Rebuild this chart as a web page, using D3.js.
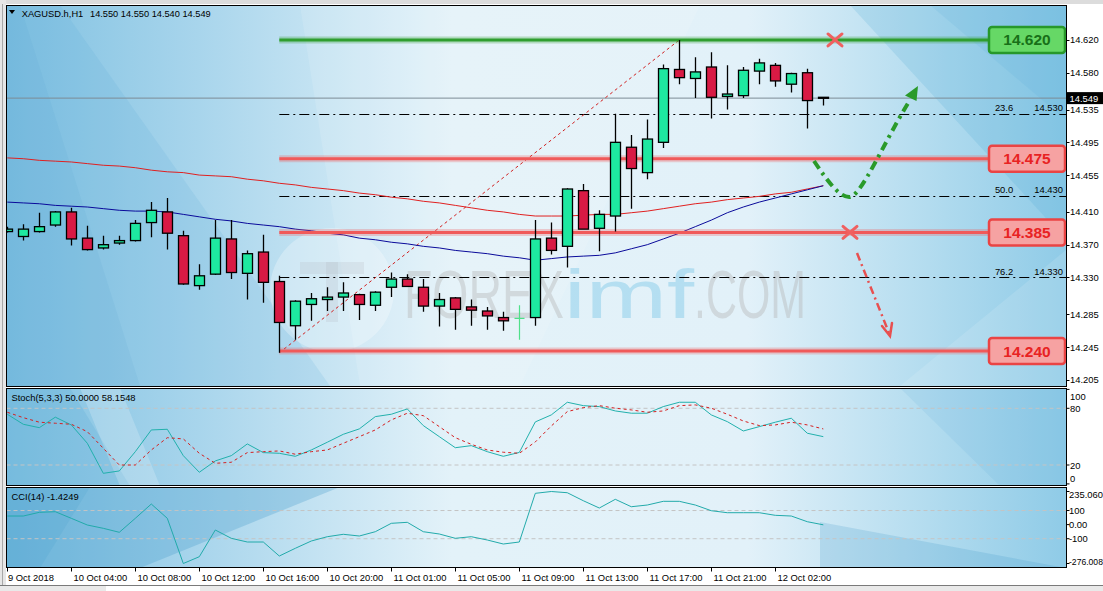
<!DOCTYPE html>
<html><head><meta charset="utf-8">
<script src="https://cdn.jsdelivr.net/npm/d3@7"></script>
<style>html,body{margin:0;padding:0;background:#fff;overflow:hidden}</style>
</head><body>
<svg id="c" width="1103" height="591" xmlns="http://www.w3.org/2000/svg"></svg>
<script>
// ---------------- DATA ----------------
const symbolName = "XAGUSD.h,H1";
const symbolQuote = "14.550 14.550 14.540 14.549";
const opens  = [14.386,14.380,14.386,14.394,14.410,14.378,14.366,14.372,14.375,14.397,14.410,14.381,14.320,14.334,14.377,14.335,14.361,14.325,14.271,14.297,14.303,14.306,14.309,14.296,14.318,14.328,14.318,14.295,14.305,14.294,14.289,14.281,14.280,14.281,14.378,14.368,14.436,14.390,14.405,14.489,14.458,14.495,14.584,14.573,14.587,14.551,14.552,14.582,14.589,14.566,14.580,14.550];
const highs  = [14.392,14.395,14.409,14.411,14.415,14.393,14.381,14.381,14.400,14.422,14.427,14.387,14.346,14.400,14.400,14.363,14.382,14.332,14.302,14.311,14.318,14.324,14.310,14.313,14.336,14.334,14.328,14.311,14.306,14.303,14.294,14.288,14.296,14.400,14.397,14.439,14.444,14.412,14.530,14.504,14.523,14.590,14.620,14.599,14.605,14.589,14.587,14.597,14.592,14.580,14.585,14.550];
const lows   = [14.385,14.375,14.385,14.392,14.369,14.363,14.364,14.370,14.374,14.379,14.364,14.321,14.315,14.333,14.328,14.303,14.299,14.238,14.254,14.277,14.289,14.289,14.278,14.289,14.306,14.319,14.288,14.270,14.266,14.271,14.266,14.265,14.254,14.271,14.358,14.342,14.389,14.362,14.386,14.414,14.450,14.488,14.566,14.549,14.524,14.535,14.549,14.566,14.563,14.556,14.512,14.540];
const closes = [14.389,14.389,14.392,14.410,14.377,14.364,14.370,14.375,14.396,14.412,14.384,14.322,14.332,14.378,14.336,14.359,14.324,14.275,14.301,14.304,14.306,14.311,14.297,14.312,14.328,14.319,14.295,14.303,14.291,14.290,14.283,14.277,14.280,14.377,14.363,14.438,14.389,14.407,14.495,14.463,14.499,14.585,14.574,14.581,14.550,14.554,14.583,14.592,14.570,14.579,14.546,14.549];
const maRed  = [14.476,14.475,14.473,14.472,14.471,14.469,14.467,14.466,14.464,14.461,14.459,14.458,14.455,14.454,14.453,14.450,14.448,14.445,14.443,14.440,14.438,14.436,14.433,14.431,14.428,14.426,14.423,14.421,14.418,14.415,14.412,14.410,14.407,14.405,14.405,14.405,14.406,14.407,14.407,14.409,14.411,14.414,14.417,14.420,14.422,14.425,14.427,14.429,14.432,14.434,14.438,14.442];
const maBlue = [14.422,14.421,14.420,14.418,14.417,14.416,14.414,14.412,14.411,14.411,14.410,14.407,14.404,14.401,14.399,14.396,14.394,14.392,14.389,14.387,14.384,14.382,14.378,14.376,14.373,14.371,14.368,14.366,14.363,14.361,14.359,14.356,14.354,14.351,14.353,14.355,14.356,14.357,14.360,14.365,14.370,14.377,14.384,14.392,14.400,14.409,14.416,14.422,14.427,14.432,14.437,14.442];
const stochK = [73.7,63.1,59.5,70.6,62.4,43.0,11.2,13.7,34.1,57.1,57.8,29.9,12.3,24.3,29.9,42.3,33.1,32.4,29.2,35.9,44.1,52.5,58.2,71.2,73.7,79.3,61.7,50.0,38.3,40.5,34.1,29.2,33.3,65.6,73.0,86.4,82.8,81.8,77.2,74.8,74.8,81.8,86.4,86.4,73.0,65.9,56.0,60.6,65.3,69.5,53.6,50.0];
const stochD = [75.8,70.1,65.3,64.2,63.1,55.3,37.7,20.0,20.0,35.9,48.9,47.6,32.4,21.8,22.9,33.1,34.1,34.9,31.4,34.1,35.9,43.0,50.0,57.1,67.7,74.8,72.2,60.6,48.9,41.9,35.9,33.5,32.4,44.4,61.3,76.5,80.7,82.8,80.1,78.3,75.8,77.2,82.8,83.6,80.1,73.7,66.6,61.7,62.4,65.3,62.4,58.1548];
const cci    = [61.0,61.0,87.3,91.6,44.7,-2.8,-26.3,-54.6,44.7,146.2,44.7,-276.008,-227.8,-38.3,-97.2,-123.5,-123.5,-222.9,-168.2,-116.4,-85.9,-68.8,-80.9,-50.4,9.2,16.3,-50.4,-66.7,-97.2,-85.9,-109.3,-137.7,-123.5,222.1,235.06,226.4,169.6,117.8,179.6,127.0,139.1,165.4,165.4,139.1,98.7,84.5,84.5,84.5,66.0,61.0,20.6,-1.4249];
const priceTicks = [14.620,14.580,14.535,14.495,14.455,14.410,14.370,14.330,14.285,14.245,14.205];
const stochTicks = [100,80,20,0];
const stochLevels = [80,20];
const cciTicks = [235.060,100,0,-100,-276.008];
const cciTickLabels = ["235.060","100","0.00","-100","-276.008"];
const cciLevels = [100,-100];
const timeLabels = ["9 Oct 2018","10 Oct 04:00","10 Oct 08:00","10 Oct 12:00","10 Oct 16:00","10 Oct 20:00","11 Oct 01:00","11 Oct 05:00","11 Oct 09:00","11 Oct 13:00","11 Oct 17:00","11 Oct 21:00","12 Oct 02:00"];
const timeLabelBar = [0,4,8,12,16,20,24,28,32,36,40,44,48];
const resistanceLevels = [14.620];
const supportLevels = [14.475,14.385,14.240];
const fibValues = [14.530,14.430,14.330];
const fibNames = ["23.6","50.0","76.2"];
const fibStartBar = 17, fibEndBar = 42;       // swing low bar -> swing high bar
const lastPrice = 14.549;
const stochTitle = "Stoch(5,3,3) 50.0000 58.1548";
const cciTitle = "CCI(14) -1.4249";

// ---------------- LAYOUT ----------------
const L = 6.5, R = 1066.5;
const main = {t:5.5, b:386.5}, stP = {t:388.5, b:485.5}, ccP = {t:487.5, b:567.5};
const FONT = "'Liberation Sans', Arial, sans-serif";

const svg = d3.select("#c");
const defs = svg.append("defs");
const idx = opens.map((_, i) => i);
const x = d3.scaleLinear().domain([0, 51]).range([7.3, 823.3]);
const y = d3.scaleLinear().domain([14.1974, 14.6615]).range([386, 6]);
const yS = d3.scaleLinear().domain([0, 100]).range([483.9, 389.4]);
const yC = d3.scaleLinear().domain([-276.008, 235.06]).range([563.5, 491.5]);

// frame
svg.append("rect").attr("x",0).attr("y",0).attr("width",1103).attr("height",591).attr("fill","#ffffff");
svg.append("rect").attr("x",0).attr("y",0).attr("width",1103).attr("height",4).attr("fill","#dcdcdc");
svg.append("rect").attr("x",0).attr("y",0).attr("width",6).attr("height",585).attr("fill","#e6e6e6");
svg.append("line").attr("x1",2.5).attr("x2",2.5).attr("y1",4).attr("y2",585).attr("stroke","#a8a8a8");
svg.append("rect").attr("x",0).attr("y",585).attr("width",1103).attr("height",6).attr("fill","#e9e9e9");
svg.append("line").attr("x1",0).attr("x2",1103).attr("y1",585.5).attr("y2",585.5).attr("stroke","#7a7a7a");
svg.append("rect").attr("x",106).attr("y",586).attr("width",94).attr("height",5).attr("fill","#ffffff");

// background gradient
const g1 = defs.append("linearGradient").attr("id","bg").attr("gradientUnits","userSpaceOnUse")
  .attr("x1",7).attr("y1",0).attr("x2",1066).attr("y2",0);
[[0,"#80c1e1"],[0.18,"#a8d5ec"],[0.42,"#e3f2f9"],[0.7,"#e2f1f9"],[0.87,"#b3dcef"],[1,"#8fcbe7"]]
  .forEach(s => g1.append("stop").attr("offset",s[0]).attr("stop-color",s[1]));

function panelBg(p, id){
  const cp = defs.append("clipPath").attr("id", id);
  cp.append("rect").attr("x",L).attr("y",p.t).attr("width",R-L).attr("height",p.b-p.t);
  const g = svg.append("g").attr("clip-path",`url(#${id})`);
  g.append("rect").attr("x",L).attr("y",p.t).attr("width",R-L).attr("height",p.b-p.t).attr("fill","url(#bg)");
  return g;
}
const gm = panelBg(main, "cm");
const gs = panelBg(stP, "cs");
const gc = panelBg(ccP, "cc");

// decorative streaks
function poly(g, pts, fill, op){ g.append("polygon").attr("points", pts.map(p=>p.join(",")).join(" ")).attr("fill",fill).attr("opacity",op); }
poly(gm, [[7,5],[60,5],[330,386],[7,386]], "#5aaad6", 0.15);
poly(gm, [[7,5],[20,5],[140,386],[7,386]], "#4aa0d0", 0.1);
poly(gm, [[850,5],[1066,5],[1066,240]], "#4aa4d4", 0.18);
poly(gm, [[930,5],[1066,5],[1066,120]], "#4aa4d4", 0.12);
poly(gm, [[300,5],[700,5],[520,386],[360,386]], "#ffffff", 0.12);
poly(gm, [[1066,250],[900,386],[1066,386]], "#ffffff", 0.12);
poly(gs, [[7,388],[70,388],[130,486],[7,486]], "#4fa3d2", 0.2);
poly(gs, [[80,388],[120,388],[160,486],[120,486]], "#ffffff", 0.2);
poly(gs, [[900,388],[1066,388],[1066,486],[1000,486]], "#4fa3d2", 0.12);
poly(gc, [[7,487],[340,487],[140,568],[7,568]], "#3d98c8", 0.28);
poly(gc, [[7,487],[90,487],[40,568],[7,568]], "#3d98c8", 0.15);
poly(gc, [[820,522],[1066,568],[820,568]], "#3d98c8", 0.2);

// watermark
gm.append("circle").attr("cx",332).attr("cy",290).attr("r",62).attr("fill","#ffffff").attr("opacity",0.28);
gm.append("rect").attr("x",300).attr("y",262).attr("width",64).attr("height",12).attr("fill","#b0b8be").attr("opacity",0.22);
gm.append("rect").attr("x",326).attr("y",262).attr("width",12).attr("height",60).attr("fill","#b0b8be").attr("opacity",0.22);
const wm = gm.append("text").attr("x",404).attr("y",318).attr("font-family",FONT).attr("font-size",68);
wm.append("tspan").text("FOREX").attr("fill","#b4b4b4").attr("opacity",0.4).attr("textLength",160).attr("lengthAdjust","spacingAndGlyphs");
wm.append("tspan").text("imf").attr("fill","#97d3ec").attr("opacity",0.6).attr("textLength",130).attr("lengthAdjust","spacingAndGlyphs");
wm.append("tspan").text(".COM").attr("fill","#b4b4b4").attr("opacity",0.4).attr("textLength",112).attr("lengthAdjust","spacingAndGlyphs");

// current price line
gm.append("line").attr("x1",L).attr("x2",R).attr("y1",y(lastPrice)).attr("y2",y(lastPrice)).attr("stroke","#7d8c96").attr("stroke-width",1);

// Fibonacci dash-dot lines
fibValues.forEach((v,i) => {
  gm.append("line").attr("x1",x(fibStartBar)).attr("x2",R).attr("y1",Math.round(y(v))+0.5).attr("y2",Math.round(y(v))+0.5)
    .attr("stroke","#000").attr("stroke-width",1).attr("stroke-dasharray","10,4,2,4");
  gm.append("text").attr("x",1004).attr("y",y(v)-2.5).attr("font-family",FONT).attr("font-size",9.4).attr("text-anchor","middle").text(fibNames[i]);
  gm.append("text").attr("x",1063).attr("y",y(v)-2.5).attr("font-family",FONT).attr("font-size",9.4).attr("text-anchor","end").text(d3.format(".3f")(v));
});

// Fib trend line (swing low -> swing high)
gm.append("line").attr("x1",x(fibStartBar)).attr("y1",y(lows[fibStartBar])).attr("x2",x(fibEndBar)).attr("y2",y(highs[fibEndBar]))
  .attr("stroke","#d02020").attr("stroke-width",1).attr("stroke-dasharray","3,3");

// moving averages
const line = (arr, ys) => d3.line().x((d,i)=>x(i)).y(d=>ys(d))(arr);
gm.append("path").attr("d",line(maRed,y)).attr("fill","none").attr("stroke","#e02020").attr("stroke-width",1);
gm.append("path").attr("d",line(maBlue,y)).attr("fill","none").attr("stroke","#0a0a9a").attr("stroke-width",1);

// levels
function levelLine(v, col){
  gm.append("line").attr("x1",x(fibStartBar)).attr("x2",990).attr("y1",y(v)).attr("y2",y(v)).attr("stroke",col).attr("stroke-width",7).attr("opacity",0.28);
  gm.append("line").attr("x1",x(fibStartBar)).attr("x2",990).attr("y1",y(v)).attr("y2",y(v)).attr("stroke",col).attr("stroke-width",3);
}
resistanceLevels.forEach(v => levelLine(v, "#2f9e2f"));
supportLevels.forEach(v => levelLine(v, "#f05a5a"));

// candles
const bull = "#1ee8a0", bear = "#d81a44";
const cg = gm.append("g");
idx.forEach(i => {
  const o = opens[i], c = closes[i], cx = Math.round(x(i)) + 0.5;
  if (o === c) {
    cg.append("line").attr("x1",cx).attr("x2",cx).attr("y1",y(highs[i])).attr("y2",y(lows[i])).attr("stroke","#4fe08a").attr("stroke-width",1.2);
    cg.append("line").attr("x1",cx-5).attr("x2",cx+5).attr("y1",y(o)).attr("y2",y(o)).attr("stroke","#4fe08a").attr("stroke-width",1.2);
    return;
  }
  cg.append("line").attr("x1",cx).attr("x2",cx).attr("y1",y(highs[i])).attr("y2",y(lows[i])).attr("stroke","#000").attr("stroke-width",1.3);
  const top = y(Math.max(o,c)), bot = y(Math.min(o,c));
  cg.append("rect").attr("x",cx-5).attr("y",top).attr("width",10).attr("height",Math.max(1,bot-top))
    .attr("fill", c > o ? bull : bear).attr("stroke","#000").attr("stroke-width",1.3);
});

// scenario marks (arrows & crosses)
function cross(cx, cy){
  gm.append("path").attr("d",`M${cx-7},${cy-6}L${cx+7},${cy+6}M${cx-7},${cy+6}L${cx+7},${cy-6}`)
    .attr("stroke","#f06060").attr("stroke-width",3).attr("stroke-linecap","round");
}
cross(835, y(resistanceLevels[0]));
cross(850, y(supportLevels[1]));
gm.append("path").attr("d","M814,161 C828,182 840,198 850,197 C862,195 885,140 910,100")
  .attr("fill","none").attr("stroke","#2a9a2a").attr("stroke-width",4).attr("stroke-dasharray","9,5,3,5");
gm.append("path").attr("d","M918,86 L905,95.5 L916.5,101 Z").attr("fill","#2a9a2a");
gm.append("path").attr("d","M857,253 L889,333").attr("stroke","#e85050").attr("stroke-width",2.5).attr("stroke-dasharray","8,4,2,4").attr("fill","none");
gm.append("path").attr("d","M882,326 L890,336 L892,323").attr("stroke","#e85050").attr("stroke-width",2.5).attr("fill","none").attr("stroke-linecap","round");

// level boxes
function box(v, fill, stroke, tc){
  const cy = y(v);
  svg.append("rect").attr("x",989).attr("y",cy-13).attr("width",76).attr("height",26).attr("rx",3)
    .attr("fill",fill).attr("stroke",stroke).attr("stroke-width",2.5);
  svg.append("text").attr("x",1027).attr("y",cy+5.5).attr("text-anchor","middle").attr("font-family",FONT)
    .attr("font-weight","bold").attr("font-size",15.5).attr("fill",tc).text(d3.format(".3f")(v));
}
resistanceLevels.forEach(v => box(v, "#66d866", "#27982a", "#187018"));
supportLevels.forEach(v => box(v, "#f6a2a2", "#ea4444", "#e82222"));

// stochastic
stochLevels.forEach(v => gs.append("line").attr("x1",L).attr("x2",R).attr("y1",yS(v)).attr("y2",yS(v))
  .attr("stroke","#c4c4c4").attr("stroke-dasharray","4,3"));
gs.append("path").attr("d",line(stochK,yS)).attr("fill","none").attr("stroke","#22b0ac").attr("stroke-width",1);
gs.append("path").attr("d",line(stochD,yS)).attr("fill","none").attr("stroke","#d42020").attr("stroke-width",1).attr("stroke-dasharray","3,3");

// CCI
cciLevels.forEach(v => gc.append("line").attr("x1",L).attr("x2",R).attr("y1",yC(v)).attr("y2",yC(v))
  .attr("stroke","#c4c4c4").attr("stroke-dasharray","4,3"));
gc.append("path").attr("d",line(cci,yC)).attr("fill","none").attr("stroke","#22aaaa").attr("stroke-width",1);

// panel titles
svg.append("path").attr("d","M9,10 L15,10 L12,14 Z").attr("fill","#000");
svg.append("text").attr("x",21.7).attr("y",17).attr("font-family",FONT).attr("font-size",9.6)
  .attr("textLength",61.6).attr("lengthAdjust","spacingAndGlyphs").text(symbolName);
svg.append("text").attr("x",90).attr("y",17).attr("font-family",FONT).attr("font-size",9.6)
  .attr("textLength",120.7).attr("lengthAdjust","spacingAndGlyphs").text(symbolQuote);
svg.append("text").attr("x",11.5).attr("y",401).attr("font-family",FONT).attr("font-size",9.4).text(stochTitle);
svg.append("text").attr("x",11.5).attr("y",500).attr("font-family",FONT).attr("font-size",9.4).text(cciTitle);

// panel borders
[main, stP, ccP].forEach(p => svg.append("rect").attr("x",L).attr("y",p.t).attr("width",R-L).attr("height",p.b-p.t)
  .attr("fill","none").attr("stroke","#000").attr("stroke-width",1));

// right axis
const ax = svg.append("g").attr("font-family",FONT).attr("font-size",9.4).attr("fill","#000");
priceTicks.forEach(v => {
  ax.append("line").attr("x1",R).attr("x2",R+3).attr("y1",Math.round(y(v))+0.5).attr("y2",Math.round(y(v))+0.5).attr("stroke","#000");
  ax.append("text").attr("x",1070).attr("y",y(v)+3.5).text(d3.format(".3f")(v));
});
ax.append("rect").attr("x",1067).attr("y",y(lastPrice)-6).attr("width",36).attr("height",12).attr("fill","#000");
ax.append("text").attr("x",1069.5).attr("y",y(lastPrice)+3.5).attr("fill","#fff").text(d3.format(".3f")(lastPrice));
stochTicks.forEach(v => {
  ax.append("line").attr("x1",R).attr("x2",R+3).attr("y1",yS(v)).attr("y2",yS(v)).attr("stroke","#000");
  ax.append("text").attr("x",1070).attr("y",Math.min(Math.max(yS(v),396),478)+3.5).text(v);
});
cciTicks.forEach((v,i) => {
  ax.append("line").attr("x1",R).attr("x2",R+3).attr("y1",yC(v)).attr("y2",yC(v)).attr("stroke","#000");
  ax.append("text").attr("x",1069).attr("y",Math.min(Math.max(yC(v),494),561)+3.5)
    .attr("font-size", cciTickLabels[i].length > 7 ? 8.6 : 9.4).text(cciTickLabels[i]);
});

// time axis
timeLabels.forEach((t,i) => {
  const tx = Math.round(x(timeLabelBar[i])) + 0.5;
  svg.append("line").attr("x1",tx).attr("x2",tx).attr("y1",567.5).attr("y2",571.5).attr("stroke","#000");
  svg.append("text").attr("x",i===0 ? 8 : tx+2).attr("y",581).attr("font-family",FONT).attr("font-size",9.4).text(t);
});
</script>
</body></html>
